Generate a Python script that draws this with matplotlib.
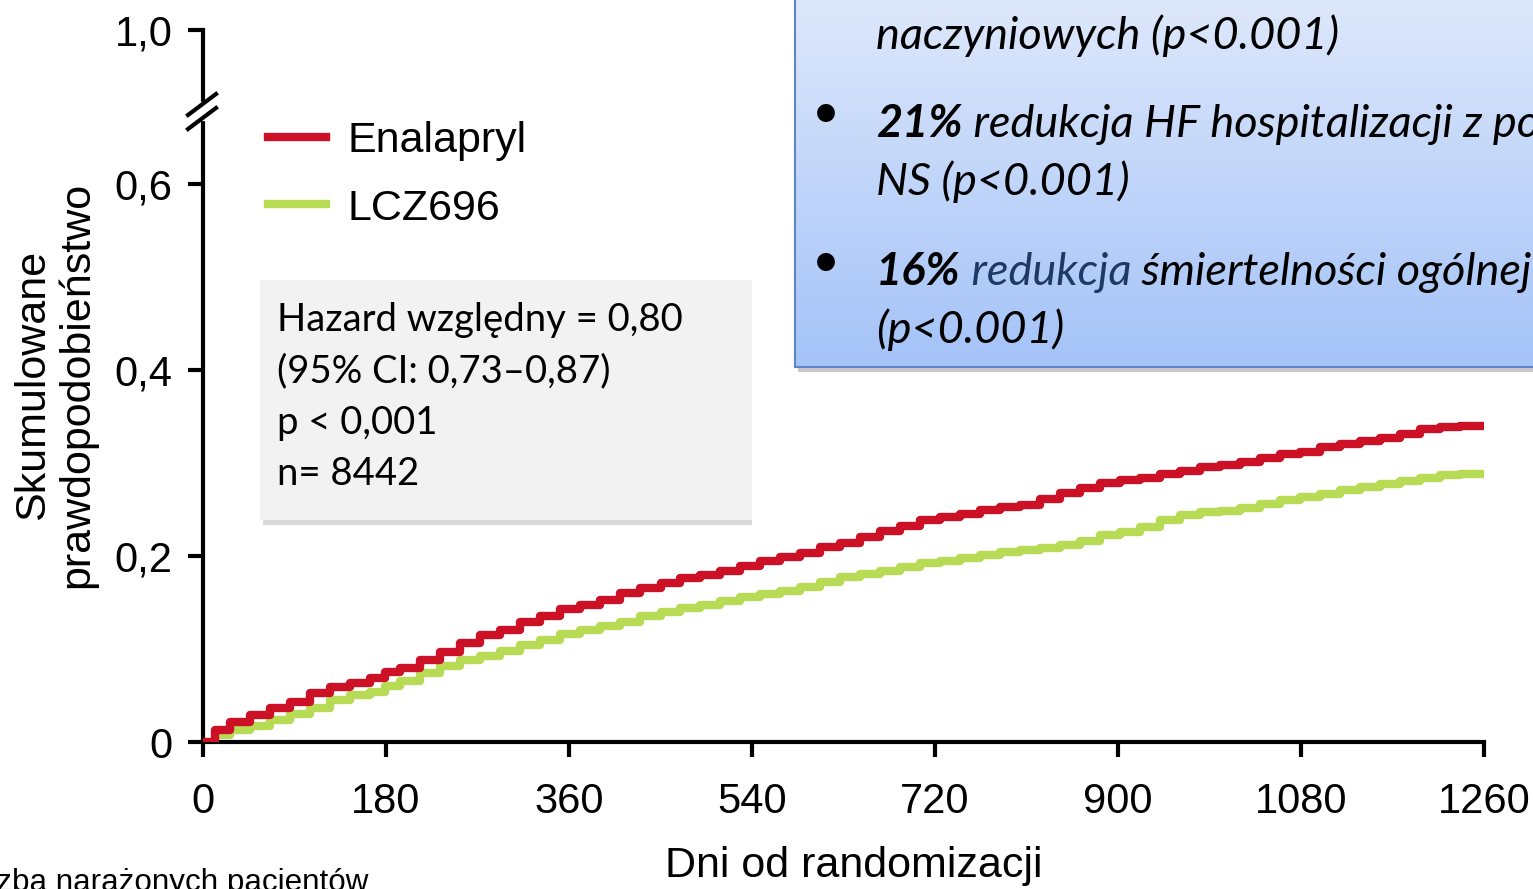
import numpy as np
import matplotlib
matplotlib.use('Agg')
import matplotlib.pyplot as plt
from matplotlib.patches import Rectangle
from matplotlib.lines import Line2D

# odczyt z wykresu Kaplana-Meiera
dni = [0, 12, 27, 46, 66, 86, 105, 125, 145, 164, 179, 194, 213, 233, 253, 272, 292, 312, 331, 351,
       371, 390, 410, 430, 450, 469, 489, 509, 528, 548, 568, 587, 607, 627, 646, 666, 686, 705, 725, 745,
       764, 784, 804, 823, 843, 863, 882, 902, 922, 941, 961, 981, 1000, 1020, 1040, 1059, 1079, 1099, 1118, 1138,
       1158, 1177, 1197, 1217, 1236, 1260]
enalapryl = [0, .013, .0215, .029, .037, .043, .053, .059, .063, .069, .075, .080, .088, .097, .106, .115, .120, .129, .135, .143,
             .147, .153, .160, .166, .171, .176, .180, .184, .189, .195, .199, .203, .210, .214, .220, .227, .232, .239, .242, .245,
             .249, .253, .255, .261, .268, .273, .278, .282, .284, .288, .291, .296, .298, .301, .305, .310, .312, .317, .320, .324,
             .327, .331, .337, .339, .340, .340]
lcz696 = [0, .0075, .013, .017, .024, .030, .037, .045, .051, .054, .060, .066, .074, .082, .088, .092, .098, .104, .110, .116,
          .120, .125, .129, .135, .140, .144, .147, .152, .156, .159, .162, .167, .172, .177, .181, .184, .188, .192, .195, .198,
          .201, .204, .206, .209, .212, .216, .223, .226, .231, .239, .244, .247, .248, .252, .256, .260, .263, .267, .271, .274,
          .277, .281, .284, .287, .288, .288]

x_ticks = [0, 180, 360, 540, 720, 900, 1080, 1260]
y_ticks = [0, 0.2, 0.4, 0.6]
y_tick_labels = ['0', '0,2', '0,4', '0,6']

RED = '#CC1126'
GREEN = '#B8DB55'

W, H = 1533, 889
fig = plt.figure(figsize=(W / 100, H / 100), dpi=100)

def fx(px):
    return px / W

def fy(py):
    return 1 - py / H

ax = fig.add_axes([fx(203), fy(742), fx(1484) - fx(203), fy(30) - fy(742)])
y_top = (742 - 30) / 930   # os jest przerwana: ta wysokosc odpowiada 1,0

ax.step(dni, lcz696, where='post', color=GREEN, lw=6, label='LCZ696', zorder=2)
ax.step(dni, enalapryl, where='post', color=RED, lw=6, label='Enalapryl', zorder=3)

ax.set_xlim(0, 1260)
ax.set_ylim(0, y_top)
ax.set_xticks(x_ticks)
ax.set_xticklabels([str(t) for t in x_ticks])
ax.set_yticks(y_ticks + [y_top])
ax.set_yticklabels(y_tick_labels + ['1,0'])
for s in ['top', 'right']:
    ax.spines[s].set_visible(False)
for s in ['left', 'bottom']:
    ax.spines[s].set_linewidth(3)
ax.tick_params(axis='both', length=11, width=3, labelsize=30)
ax.tick_params(axis='x', pad=18)
ax.tick_params(axis='y', pad=11)
for lab in ax.get_xticklabels() + ax.get_yticklabels():
    lab.set_fontfamily('Liberation Sans')

h, l = ax.get_legend_handles_labels()
leg = ax.legend(h[::-1], l[::-1], loc='upper left', bbox_to_anchor=(fx(268), fy(121)),
                bbox_transform=fig.transFigure, frameon=False, borderpad=0, borderaxespad=0,
                handlelength=1.35, handletextpad=0.5, labelspacing=0.64,
                prop={'family': 'Liberation Sans', 'size': 31})

# przerwa osi Y
fig.add_artist(Line2D([fx(203), fx(203)], [fy(106), fy(117)], color='white', lw=6, transform=fig.transFigure))
fig.add_artist(Line2D([fx(188), fx(216)], [fy(115), fy(94)], color='black', lw=3, transform=fig.transFigure))
fig.add_artist(Line2D([fx(188), fx(216)], [fy(129), fy(108)], color='black', lw=3, transform=fig.transFigure))

fig.text(fx(55), fy(385), 'Skumulowane\nprawdopodobieństwo', rotation=90, ha='center', va='center',
         multialignment='center', fontsize=31, family=['Liberation Sans Narrow', 'Liberation Sans'],
         linespacing=1.1)
fig.text(fx(854), fy(866), 'Dni od randomizacji', ha='center', va='center', fontsize=31,
         family=['Liberation Sans Narrow', 'Liberation Sans'])
fig.text(fx(368), fy(891), 'Liczba narażonych pacjentów', ha='right', va='baseline', fontsize=22.6,
         family='Liberation Sans')

# ramka z hazardem
fig.add_artist(Rectangle((fx(263), fy(525)), fx(752) - fx(263), fy(283) - fy(525),
                         transform=fig.transFigure, facecolor='#D8D8D8', edgecolor='none', zorder=4))
fig.add_artist(Rectangle((fx(260), fy(520)), fx(752) - fx(260), fy(280) - fy(520),
                         transform=fig.transFigure, facecolor='#F2F2F2', edgecolor='none', zorder=5))
hr_lines = ['Hazard względny = 0,80', '(95% CI: 0,73–0,87)', 'p < 0,001', 'n= 8442']
for i, t in enumerate(hr_lines):
    fig.text(fx(277), fy(320 + 51.3 * i), t, ha='left', va='center', fontsize=27.5,
             family=['Lato', 'DejaVu Sans'], zorder=6)

# niebieska ramka z wynikami
fig.add_artist(Rectangle((fx(798), fy(372)), 1, fy(0) - fy(372) + 0.01,
                         transform=fig.transFigure, facecolor='#C8C8C8', edgecolor='none', zorder=4))
bx = fig.add_axes([fx(795), fy(367), 1 - fx(795) + 0.01, fy(-5) - fy(367)], zorder=5)
grad = np.linspace(0, 1, 256).reshape(-1, 1)
top_c = np.array([222, 232, 251]) / 255
bot_c = np.array([164, 195, 248]) / 255
img = top_c[None, None, :] * (1 - grad[:, :, None]) + bot_c[None, None, :] * grad[:, :, None]
bx.imshow(img, aspect='auto', extent=[0, 1, 0, 1], origin='upper')
bx.set_xlim(0, 1)
bx.set_ylim(0, 1)
bx.set_xticks([])
bx.set_yticks([])
for s in bx.spines.values():
    s.set_color('#5F86C4')
    s.set_linewidth(1.5)

fi = dict(fontsize=32.5, family=['Lato', 'DejaVu Sans'], style='italic', va='bottom', ha='left')

def linia(px, py, parts):
    prev = None
    for txt, kw in parts:
        opts = dict(fi)
        opts.update(kw)
        if prev is None:
            prev = bx.text(fx(px), fy(py), txt, transform=fig.transFigure, **opts)
        else:
            prev = bx.annotate(txt, xy=(1, 0), xycoords=prev, annotation_clip=False, **opts)

linia(876, 57, [('naczyniowych (p<0.001)', {})])
linia(876, 145, [('21%', {'weight': 'bold'}), (' redukcja HF hospitalizacji z powodu', {})])
linia(876, 203, [('NS (p<0.001)', {})])
linia(876, 293, [('16%', {'weight': 'bold'}), (' redukcja', {'color': '#1F3864'}),
                 (' śmiertelności ogólnej', {})])
linia(876, 351, [('(p<0.001)', {})])
for py in [120, 268]:
    bx.text(fx(826), fy(py), '•', transform=fig.transFigure, ha='center', va='center',
            fontsize=44, family='DejaVu Sans')

fig.savefig('out.png', dpi=100)
